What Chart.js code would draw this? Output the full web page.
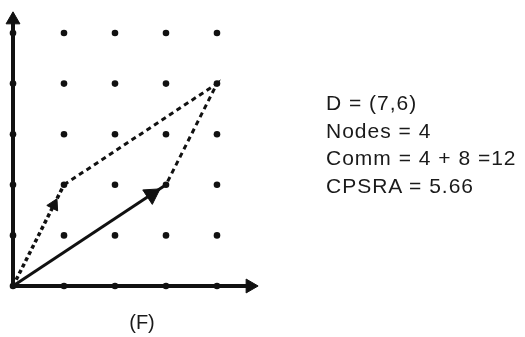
<!DOCTYPE html>
<html>
<head>
<meta charset="utf-8">
<script src="https://cdn.jsdelivr.net/npm/chart.js@4/dist/chart.umd.min.js"></script>
<style>
  body { margin: 0; background: #fff; }
  #wrap { position: relative; width: 525px; height: 337px; }
  canvas { position: absolute; left: 0; top: 0; }
  .info { position: absolute; left: 326px; top: 89px; font: 21px "Liberation Sans", Arial, sans-serif; letter-spacing: 1px; color: #1a1a1a; line-height: 27.5px; white-space: nowrap; }
  .cap { position: absolute; left: 102px; width: 80px; text-align: center; top: 312px; font: 20px "Liberation Sans", Arial, sans-serif; line-height: 20px; color: #1a1a1a; }
</style>
</head>
<body>
<div id="wrap">
  <canvas id="vec-chart" width="525" height="337"></canvas>
  <div class="info" id="info"></div>
  <div class="cap" id="cap"></div>
</div>
<script>
// grid of nodes
const gridCols = [0, 1, 2, 3, 4];
const gridRows = [0, 1, 2, 3, 4, 5];
// vectors
const solidVec = [{ x: 0, y: 0 }, { x: 3, y: 2 }];
const dashedVec = [{ x: 0, y: 0 }, { x: 1, y: 2 }];
const dashedPath = [{ x: 1, y: 2 }, { x: 4, y: 4 }, { x: 3, y: 2 }];
// axes
const xAxisLine = [{ x: 0, y: 0 }, { x: 4.7, y: 0 }];
const yAxisLine = [{ x: 0, y: 0 }, { x: 0, y: 5.3 }];
// arrow heads (position + rotation in degrees)
const arrowHeads = [
  { x: 2.72, y: 1.81, rot: 56.6, r: 10 },
  { x: 0.8, y: 1.6, rot: 26.8, r: 7 },
  { x: 0, y: 5.26, rot: 0, r: 8 },
  { x: 4.65, y: 0, rot: 90, r: 8 }
];
const infoLines = ["D = (7,6)", "Nodes = 4", "Comm = 4 + 8 =12", "CPSRA = 5.66"];
const caption = "(F)";

document.getElementById("info").innerHTML = infoLines.join("<br>");
document.getElementById("cap").textContent = caption;

const gridPts = [];
gridRows.forEach(r => gridCols.forEach(c => gridPts.push({ x: c, y: r })));

const ink = "#111";
const lineDs = (data, width, dash) => ({
  type: "line", data, borderColor: ink, borderWidth: width, borderDash: dash || [],
  pointRadius: 0, fill: false, tension: 0
});

new Chart(document.getElementById("vec-chart").getContext("2d"), {
  type: "scatter",
  data: {
    datasets: [
      lineDs(xAxisLine, 4),
      lineDs(yAxisLine, 4),
      lineDs(solidVec, 3),
      lineDs(dashedVec, 3.5, [4, 3]),
      lineDs(dashedPath, 3, [5, 4]),
      {
        data: gridPts, backgroundColor: ink, borderColor: ink,
        pointRadius: 3.3, pointBorderWidth: 0
      },
      {
        data: arrowHeads.map(a => ({ x: a.x, y: a.y })),
        pointStyle: "triangle",
        pointRotation: arrowHeads.map(a => a.rot),
        pointRadius: arrowHeads.map(a => a.r),
        backgroundColor: ink, borderColor: ink, pointBorderWidth: 1
      }
    ]
  },
  options: {
    responsive: false,
    animation: false,
    layout: { padding: 0, autoPadding: false },
    plugins: { legend: { display: false }, tooltip: { enabled: false } },
    scales: {
      x: { type: "linear", display: false, min: -0.255, max: 10.04 },
      y: { type: "linear", display: false, min: -1.008, max: 5.652 }
    }
  }
});
</script>
</body>
</html>
